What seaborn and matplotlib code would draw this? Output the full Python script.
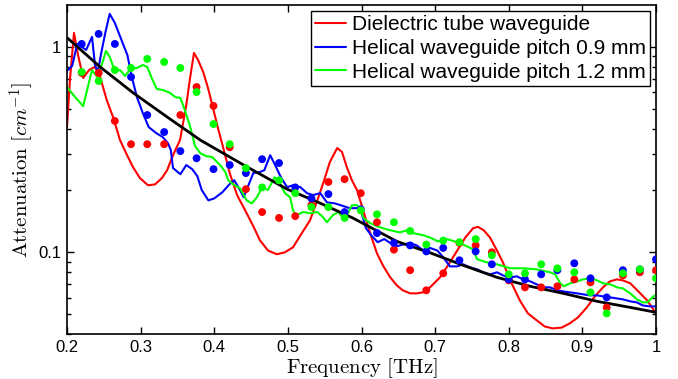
import numpy as np
import matplotlib
matplotlib.use("Agg")
import matplotlib.pyplot as plt
from matplotlib.ticker import LogLocator, NullFormatter
import seaborn as sns

# theory curve, dielectric tube waveguide
red_freq = [0.200, 0.204, 0.2095, 0.215, 0.222, 0.230, 0.238, 0.245, 0.254, 0.2625,
            0.272, 0.281, 0.2896, 0.299, 0.310, 0.3195, 0.329, 0.336, 0.344, 0.3535,
            0.362, 0.367, 0.3725, 0.378, 0.385, 0.3915, 0.398, 0.405, 0.412, 0.421,
            0.431, 0.442, 0.453, 0.462, 0.473, 0.485, 0.496, 0.507, 0.519, 0.530,
            0.540, 0.548, 0.557, 0.567, 0.5735, 0.580, 0.587, 0.594, 0.601, 0.6075,
            0.614, 0.621, 0.629, 0.639, 0.648, 0.656, 0.666, 0.675, 0.6835, 0.693,
            0.7066, 0.7175, 0.730, 0.741, 0.7515, 0.758, 0.766, 0.7745, 0.784, 0.792,
            0.802, 0.815, 0.826, 0.838, 0.849, 0.860, 0.872, 0.883, 0.894, 0.906,
            0.917, 0.928, 0.9375, 0.947, 0.955, 0.965, 0.976, 0.988, 1.0]
red_att = [0.407, 0.690, 1.17, 0.914, 0.706, 0.772, 0.799, 0.714, 0.551, 0.456,
           0.352, 0.300, 0.260, 0.230, 0.212, 0.214, 0.230, 0.251, 0.297, 0.352,
           0.52, 0.70, 0.935, 0.864, 0.755, 0.631, 0.510, 0.403, 0.325, 0.243,
           0.190, 0.160, 0.134, 0.1145, 0.102, 0.0978, 0.100, 0.1058, 0.124, 0.143,
           0.179, 0.217, 0.275, 0.322, 0.308, 0.260, 0.224, 0.2006, 0.166, 0.1385,
           0.117, 0.0989, 0.0864, 0.0755, 0.069, 0.0653, 0.0631, 0.0631, 0.0638, 0.0675,
           0.0755, 0.0864, 0.102, 0.118, 0.131, 0.133, 0.128, 0.118, 0.102, 0.0894,
           0.0730, 0.0583, 0.0504, 0.0466, 0.0435, 0.0426, 0.0430, 0.0451, 0.0482, 0.0539,
           0.061, 0.0675, 0.0722, 0.0738, 0.0730, 0.0706, 0.0645, 0.0583, 0.0504]

# helical waveguide, pitch 0.9 mm
blue_freq = [0.200, 0.207, 0.214, 0.220, 0.226, 0.234, 0.238, 0.242, 0.246, 0.252,
             0.258, 0.265, 0.275, 0.282, 0.288, 0.295, 0.303, 0.311, 0.321, 0.330,
             0.337, 0.341, 0.344, 0.354, 0.362, 0.370, 0.377, 0.383, 0.392, 0.400,
             0.411, 0.421, 0.427, 0.435, 0.440, 0.453, 0.462, 0.468, 0.476, 0.484,
             0.491, 0.499, 0.507, 0.517, 0.526, 0.534, 0.544, 0.553, 0.564, 0.575,
             0.584, 0.594, 0.599, 0.606, 0.614, 0.622, 0.631, 0.639, 0.648, 0.656,
             0.666, 0.675, 0.684, 0.693, 0.703, 0.711, 0.720, 0.730, 0.738, 0.747,
             0.757, 0.765, 0.775, 0.784, 0.792, 0.802, 0.811, 0.819, 0.829, 0.838,
             0.847, 0.856, 0.866, 0.874, 0.883, 0.893, 0.901, 0.910, 0.920, 0.928,
             0.938, 0.947, 0.955, 0.965, 0.974, 0.982, 0.992, 1.000]
blue_att = [0.764, 0.808, 1.034, 1.0, 0.967, 1.119, 0.817, 0.755, 0.914, 1.170,
            1.449, 1.309, 1.058, 0.914, 0.714, 0.570, 0.476, 0.407, 0.381, 0.364,
            0.340, 0.315, 0.257, 0.240, 0.266, 0.254, 0.235, 0.201, 0.179, 0.183,
            0.196, 0.215, 0.2245, 0.201, 0.1855, 0.243, 0.246, 0.251, 0.297, 0.260,
            0.230, 0.2075, 0.212, 0.2075, 0.194, 0.190, 0.194, 0.175, 0.173, 0.168,
            0.164, 0.164, 0.160, 0.131, 0.120, 0.112, 0.116, 0.111, 0.107, 0.109,
            0.111, 0.108, 0.102, 0.105, 0.102, 0.0946, 0.0854, 0.0854, 0.0874, 0.0845,
            0.0826, 0.0799, 0.0781, 0.0799, 0.0772, 0.0755, 0.0764, 0.0738, 0.0722, 0.0698,
            0.0675, 0.0675, 0.0653, 0.0645, 0.0638, 0.0631, 0.0624, 0.0617, 0.0617, 0.061,
            0.0603, 0.0596, 0.059, 0.0577, 0.057, 0.0551, 0.0545, 0.0545]

# helical waveguide, pitch 1.2 mm
green_freq = [0.200, 0.211, 0.222, 0.234, 0.241, 0.246, 0.253, 0.258, 0.265, 0.272,
              0.279, 0.286, 0.295, 0.303, 0.309, 0.315, 0.322, 0.330, 0.340, 0.347,
              0.354, 0.360, 0.367, 0.374, 0.381, 0.389, 0.397, 0.408, 0.415, 0.419,
              0.425, 0.435, 0.444, 0.451, 0.458, 0.465, 0.473, 0.482, 0.489, 0.496,
              0.503, 0.507, 0.511, 0.521, 0.530, 0.540, 0.548, 0.553, 0.561, 0.568,
              0.575, 0.580, 0.587, 0.594, 0.598, 0.603, 0.612, 0.621, 0.629, 0.639,
              0.652, 0.662, 0.670, 0.684, 0.693, 0.704, 0.716, 0.730, 0.743, 0.751,
              0.757, 0.770, 0.784, 0.802, 0.819, 0.838, 0.856, 0.863, 0.870, 0.875,
              0.883, 0.893, 0.901, 0.910, 0.920, 0.928, 0.938, 0.947, 0.955, 0.965,
              0.974, 0.982, 0.988, 0.995, 1.000]
green_att = [0.638, 0.570, 0.515, 0.772, 0.714, 0.790, 0.956, 0.894, 0.764, 0.772,
             0.722, 0.781, 0.790, 0.817, 0.799, 0.706, 0.624, 0.617, 0.597, 0.570,
             0.564, 0.493, 0.412, 0.329, 0.304, 0.294, 0.291, 0.266, 0.246, 0.2245,
             0.215, 0.205, 0.179, 0.173, 0.1855, 0.2075, 0.201, 0.232, 0.217, 0.194,
             0.1855, 0.160, 0.1515, 0.157, 0.155, 0.157, 0.148, 0.140, 0.1515, 0.157,
             0.148, 0.1515, 0.1695, 0.1695, 0.162, 0.1465, 0.1385, 0.134, 0.131, 0.128,
             0.125, 0.128, 0.124, 0.121, 0.118, 0.113, 0.116, 0.112, 0.107, 0.1035,
             0.0925, 0.0894, 0.0874, 0.0836, 0.0836, 0.0826, 0.0799, 0.0781, 0.0706, 0.0683,
             0.0706, 0.0722, 0.0738, 0.0747, 0.0730, 0.0706, 0.0698, 0.0675, 0.0667, 0.0631,
             0.059, 0.057, 0.057, 0.0603, 0.0624]

# black fitted trend
fit_freq = [0.2, 0.245, 0.29, 0.336, 0.381, 0.44, 0.499, 0.544, 0.588, 0.648,
            0.693, 0.738, 0.784, 0.829, 0.874, 0.92, 0.965, 1.0]
fit_att = [1.11, 0.799, 0.597, 0.456, 0.352, 0.266, 0.203, 0.1734, 0.147, 0.113,
           0.0995, 0.0864, 0.0755, 0.0683, 0.0631, 0.0577, 0.0539, 0.051]

# measured points (dots)
dot_freq = [0.220, 0.243, 0.265, 0.287, 0.309, 0.332, 0.354, 0.376, 0.399, 0.421,
            0.443, 0.465, 0.488, 0.510, 0.532, 0.555, 0.577, 0.599, 0.621, 0.644,
            0.666, 0.688, 0.711, 0.733, 0.755, 0.777, 0.800, 0.822, 0.844, 0.866,
            0.889, 0.911, 0.933, 0.955, 0.978, 1.000]
red_dots = [0.747, 0.747, 0.436, 0.336, 0.336, 0.336, 0.466, 0.638, 0.516, 0.325,
            0.203, 0.157, 0.147, 0.150, 0.170, 0.220, 0.227, 0.194, 0.140, 0.103,
            0.0818, 0.0653, 0.0790, 0.111, 0.108, 0.100, 0.0730, 0.0675, 0.0675, 0.0683,
            0.0738, 0.0714, 0.0539, 0.0772, 0.0799, 0.0818]
blue_dots = [1.034, 1.157, 1.034, 0.714, 0.466, 0.385, 0.311, 0.287, 0.254, 0.266,
             0.243, 0.284, 0.272, 0.207, 0.183, 0.192, 0.157, 0.162, 0.124, 0.111,
             0.108, 0.101, 0.105, 0.0914, 0.101, 0.0874, 0.0738, 0.0738, 0.0781, 0.0818,
             0.0884, 0.0747, 0.0603, 0.0818, 0.0826, 0.0924]
green_dots = [0.755, 0.682, 0.772, 0.790, 0.874, 0.845, 0.790, 0.603, 0.421, 0.336,
              0.257, 0.207, 0.224, 0.194, 0.166, 0.166, 0.147, 0.160, 0.153, 0.140,
              0.127, 0.109, 0.114, 0.112, 0.116, 0.0967, 0.0781, 0.0790, 0.0874, 0.0835,
              0.0799, 0.0638, 0.0504, 0.0790, 0.0826, 0.0747]

x_ticks = [0.2, 0.3, 0.4, 0.5, 0.6, 0.7, 0.8, 0.9, 1.0]
x_labels = ['0.2', '0.3', '0.4', '0.5', '0.6', '0.7', '0.8', '0.9', '1']

sns.set_style("ticks", {"xtick.direction": "in", "ytick.direction": "in",
                        "axes.edgecolor": "black", "xtick.color": "black",
                        "ytick.color": "black", "text.color": "black",
                        "axes.labelcolor": "black"})
plt.rcParams['font.family'] = ['Liberation Sans', 'DejaVu Sans']
plt.rcParams['mathtext.fontset'] = 'cm'

fig = plt.figure(figsize=(6.78, 3.79), dpi=100)
ax = fig.add_axes([0.0988, 0.1187, 0.8688, 0.8681])
ax.set_yscale('log')

sns.lineplot(x=red_freq, y=red_att, color='#ff0000', lw=1.5,
             label='Dielectric tube waveguide', ax=ax)
sns.lineplot(x=blue_freq, y=blue_att, color='#0000ff', lw=1.5,
             label='Helical waveguide pitch 0.9 mm', ax=ax)
sns.lineplot(x=green_freq, y=green_att, color='#00ff00', lw=1.5,
             label='Helical waveguide pitch 1.2 mm', ax=ax)
sns.lineplot(x=fit_freq, y=fit_att, color='black', lw=2, ax=ax)

for vals, col in [(red_dots, '#ff0000'), (blue_dots, '#0000ff'), (green_dots, '#00ff00')]:
    sns.scatterplot(x=dot_freq, y=vals, color=col, s=32, edgecolor='none',
                    legend=False, ax=ax, zorder=4)

ax.set_xlim(0.2, 1.0)
ax.set_ylim(0.04, 1.6)
ax.set_xticks(x_ticks)
ax.set_xticklabels(x_labels)
ax.set_yticks([0.1, 1])
ax.set_yticklabels(['0.1', '1'])
ax.yaxis.set_minor_locator(LogLocator(base=10, subs=np.arange(2, 10)))
ax.yaxis.set_minor_formatter(NullFormatter())
ax.tick_params(which='both', direction='in', top=True, right=True, width=1, labelsize=12)
ax.tick_params(which='major', length=5, pad=4)
ax.tick_params(which='minor', length=3)
for sp in ax.spines.values():
    sp.set_visible(True)
    sp.set_linewidth(1.2)
    sp.set_color('black')

ax.set_xlabel(r'$\mathrm{Frequency\ [THz]}$', fontsize=15, labelpad=1)
ax.set_ylabel(r'$\mathrm{Attenuation}\ [cm^{-1}]$', fontsize=15, labelpad=2)

leg = ax.legend(loc='upper right', fontsize=15, frameon=True, fancybox=False,
                edgecolor='black', framealpha=1, borderpad=0.2, labelspacing=0.22,
                handlelength=1.5, handletextpad=0.25, borderaxespad=0.3)
leg.get_frame().set_linewidth(1.0)

fig.savefig('out.png', dpi=100)
